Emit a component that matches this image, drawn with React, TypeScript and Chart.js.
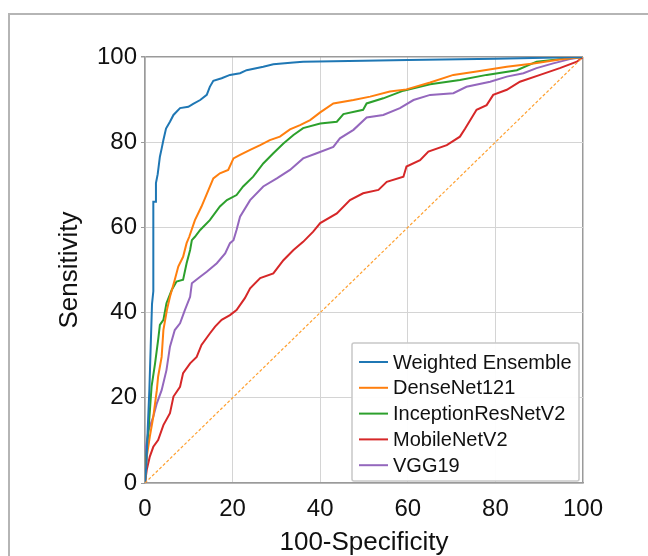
import React, { useEffect, useRef } from "react";
import { Chart, registerables } from "chart.js";

Chart.register(...registerables);

const FONT = "'Liberation Sans', Arial, Helvetica, sans-serif";

const SERIES_LABELS = ["Weighted Ensemble", "DenseNet121", "InceptionResNetV2", "MobileNetV2", "VGG19"];
const SERIES_COLORS = ["#1f77b4", "#ff7f0e", "#2ca02c", "#d62728", "#9467bd"];

const TICK_VALUES = [0, 20, 40, 60, 80, 100];

const ensembleX = [0, 0.3, 0.6, 1.0, 1.3, 1.6, 1.9, 1.9, 2.5, 2.5, 2.9, 3.4, 3.8, 4.2, 4.8, 5.7, 6.5, 8.0, 9.9, 11.0, 12.6, 14.1, 14.8, 15.6, 17.5, 19.4, 21.7, 23.2, 27.0, 29.3, 33.9, 36.1, 50, 60, 80, 100];
const ensembleY = [0, 4, 12, 22, 32, 42, 45, 66, 66, 70.4, 72.5, 76.6, 78.5, 80.5, 83.2, 84.8, 86.4, 88.0, 88.3, 89.0, 89.9, 91.1, 93.0, 94.4, 95.0, 95.8, 96.2, 96.9, 97.7, 98.3, 98.7, 98.9, 99.1, 99.3, 99.6, 100];

const denseX = [0, 0.4, 1.1, 1.9, 2.7, 3.0, 3.8, 4.2, 5.0, 5.7, 6.8, 7.6, 8.7, 9.5, 10.1, 11.4, 12.9, 14.5, 15.6, 17.1, 19.0, 20.2, 21.7, 24.0, 26.3, 28.5, 30.8, 33.1, 35.4, 37.7, 40.0, 43.0, 47.6, 51.4, 55.9, 59.7, 65.1, 70.4, 75.7, 82.6, 88.7, 94.7, 100];
const denseY = [0, 6.2, 10.9, 15.6, 21.8, 25.0, 29.6, 35.9, 40.6, 43.7, 47.7, 50.8, 53.1, 56.3, 57.8, 61.7, 64.9, 68.8, 71.5, 72.7, 73.5, 76.2, 77.0, 78.2, 79.3, 80.5, 81.3, 83.0, 84.0, 85.2, 87.0, 89.1, 89.9, 90.7, 91.9, 92.4, 94.0, 95.8, 96.6, 97.7, 98.5, 99.4, 100];

const inceptionX = [0, 0.4, 0.8, 1.5, 2.3, 3.0, 3.4, 4.2, 4.9, 6.1, 7.2, 8.7, 9.5, 10.3, 10.7, 11.4, 12.6, 14.8, 17.1, 18.7, 20.9, 22.4, 24.7, 27.0, 29.3, 31.6, 33.9, 36.1, 40.0, 43.8, 45.3, 49.8, 50.6, 54.4, 59.0, 65.1, 71.9, 78.0, 84.9, 89.4, 94.7, 100];
const inceptionY = [0, 7.7, 12.4, 22.6, 28.1, 33.6, 37.1, 38.3, 42.2, 45.3, 47.3, 47.7, 51.6, 54.7, 57.0, 57.8, 59.4, 61.7, 64.9, 66.4, 67.6, 69.6, 71.9, 75.0, 77.4, 79.7, 81.7, 83.3, 84.4, 84.8, 86.6, 87.6, 89.1, 90.3, 92.1, 93.6, 94.6, 95.8, 96.9, 98.9, 99.5, 100];

const mobileX = [0, 0.4, 1.1, 1.9, 3.0, 4.2, 5.7, 6.5, 8.0, 8.7, 10.3, 11.8, 12.9, 14.8, 16.0, 17.5, 19.4, 20.9, 22.8, 24.0, 26.3, 29.3, 31.6, 33.9, 36.1, 38.4, 40.0, 43.8, 46.8, 49.8, 53.3, 55.2, 59.0, 59.7, 62.8, 64.7, 68.9, 71.9, 73.1, 75.7, 78.0, 79.5, 82.6, 85.6, 90.2, 94.7, 98.6, 100];
const mobileY = [0, 3.1, 6.2, 8.5, 10.1, 13.6, 16.4, 20.3, 22.6, 25.8, 28.1, 29.6, 32.4, 35.1, 36.7, 38.3, 39.4, 40.6, 43.4, 45.7, 48.1, 49.2, 52.3, 54.7, 56.6, 59.0, 61.0, 63.3, 66.4, 68.0, 68.8, 70.7, 71.9, 74.3, 75.8, 77.8, 79.3, 81.3, 83.2, 87.6, 88.7, 91.1, 92.3, 94.2, 95.8, 97.4, 98.9, 100];

const vggX = [0, 0.1, 0.8, 1.9, 2.7, 3.8, 4.9, 5.7, 6.8, 8.0, 9.1, 10.3, 10.7, 12.6, 14.1, 16.4, 18.3, 19.4, 20.2, 20.9, 21.7, 24.0, 27.0, 30.1, 33.1, 36.1, 39.2, 43.0, 44.5, 47.6, 50.6, 54.4, 58.2, 61.3, 65.1, 70.4, 73.4, 78.8, 82.6, 86.4, 89.4, 93.2, 97.0, 100];
const vggY = [0, 7.7, 12.4, 15.6, 18.7, 21.8, 26.5, 32.0, 35.9, 37.5, 40.6, 43.7, 46.9, 48.4, 49.6, 51.6, 53.9, 56.3, 57.0, 59.4, 62.5, 66.4, 69.6, 71.5, 73.5, 76.2, 77.4, 78.9, 80.9, 82.9, 85.8, 86.4, 88.0, 89.9, 91.1, 91.5, 93.0, 94.2, 95.4, 96.2, 97.4, 98.5, 99.5, 100];

const chanceX = [0, 100];
const chanceY = [0, 100];

const SERIES_X = [ensembleX, denseX, inceptionX, mobileX, vggX];
const SERIES_Y = [ensembleY, denseY, inceptionY, mobileY, vggY];

function zip(xs: number[], ys: number[]) {
  return xs.map((x, i) => ({ x, y: ys[i] }));
}

const insideLegend = {
  id: "insideLegend",
  afterDatasetsDraw(chart: any) {
    const { ctx, chartArea } = chart;
    const w = 227;
    const h = 138;
    const right = chartArea.right - 4;
    const bottom = chartArea.bottom - 2;
    const left = right - w;
    const top = bottom - h;
    ctx.save();
    ctx.fillStyle = "rgba(255,255,255,0.95)";
    ctx.strokeStyle = "#c8c8c8";
    ctx.lineWidth = 1.5;
    ctx.beginPath();
    if ((ctx as any).roundRect) (ctx as any).roundRect(left, top, w, h, 2);
    else ctx.rect(left, top, w, h);
    ctx.fill();
    ctx.stroke();
    ctx.font = `20px ${FONT}`;
    ctx.textBaseline = "middle";
    ctx.textAlign = "left";
    SERIES_LABELS.forEach((label, i) => {
      const cy = top + 19 + i * 25.8;
      ctx.strokeStyle = SERIES_COLORS[i];
      ctx.lineWidth = 2;
      ctx.beginPath();
      ctx.moveTo(left + 7, cy);
      ctx.lineTo(left + 36, cy);
      ctx.stroke();
      ctx.fillStyle = "#111111";
      ctx.fillText(label, left + 41, cy + 1);
    });
    ctx.restore();
  },
};

const gridColor = (c: any) => (c.tick && c.tick.value === 100 ? "#9a9a9a" : "#d4d4d4");
const gridWidth = (c: any) => (c.tick && c.tick.value === 100 ? 1.5 : 1);
const setTicks = (s: any) => {
  s.ticks = TICK_VALUES.map((v) => ({ value: v }));
};

export default function App() {
  const ref = useRef<HTMLCanvasElement>(null);

  useEffect(() => {
    if (!ref.current) return;
    const datasets: any[] = SERIES_LABELS.map((label, i) => ({
      label,
      data: zip(SERIES_X[i], SERIES_Y[i]),
      borderColor: SERIES_COLORS[i],
      backgroundColor: SERIES_COLORS[i],
      borderWidth: 2,
      pointRadius: 0,
      tension: 0,
      fill: false,
      order: i + 1,
    }));
    datasets.push({
      label: "chance",
      data: zip(chanceX, chanceY),
      borderColor: "#ffa030",
      borderWidth: 1.2,
      borderDash: [3, 2],
      pointRadius: 0,
      fill: false,
      order: 0,
    });

    const chart = new Chart(ref.current, {
      type: "line",
      data: { datasets },
      options: {
        responsive: false,
        devicePixelRatio: 1,
        animation: false,
        layout: { padding: { top: 57, right: 65, left: 0, bottom: 0 } },
        plugins: { legend: { display: false }, tooltip: { enabled: false } },
        scales: {
          x: {
            type: "linear",
            min: 0,
            max: 100,
            afterBuildTicks: setTicks,
            afterFit: (s: any) => {
              s.height = 73;
            },
            ticks: { font: { family: FONT, size: 24 }, color: "#111111", padding: 12, maxRotation: 0 },
            grid: { color: gridColor, lineWidth: gridWidth, drawTicks: false },
            border: { color: "#9a9a9a", width: 1.5 },
            title: {
              display: true,
              text: "100-Specificity",
              font: { family: FONT, size: 26, lineHeight: 1 },
              color: "#111111",
              padding: { top: 0, bottom: 0 },
            },
          },
          y: {
            type: "linear",
            min: 0,
            max: 100,
            afterBuildTicks: setTicks,
            afterFit: (s: any) => {
              s.width = 145;
            },
            ticks: { font: { family: FONT, size: 24 }, color: "#111111", padding: 4 },
            grid: { color: gridColor, lineWidth: gridWidth, tickLength: 4, tickColor: "#9a9a9a" },
            border: { color: "#9a9a9a", width: 1.5 },
            title: {
              display: true,
              text: "Sensitivity",
              font: { family: FONT, size: 26, lineHeight: 1 },
              color: "#111111",
              padding: { top: 57, bottom: 0 },
            },
          },
        },
      },
      plugins: [insideLegend],
    } as any);
    return () => chart.destroy();
  }, []);

  return (
    <div style={{ position: "fixed", left: 0, top: 0, width: 648, height: 556, background: "#ffffff", overflow: "hidden" }}>
      <div
        style={{
          position: "absolute",
          left: 8,
          top: 13,
          right: 0,
          bottom: 0,
          borderTop: "2px solid #b5b5b5",
          borderLeft: "2px solid #b5b5b5",
        }}
      />
      <canvas ref={ref} width={648} height={556} style={{ position: "absolute", left: 0, top: 0, width: 648, height: 556 }} />
    </div>
  );
}
